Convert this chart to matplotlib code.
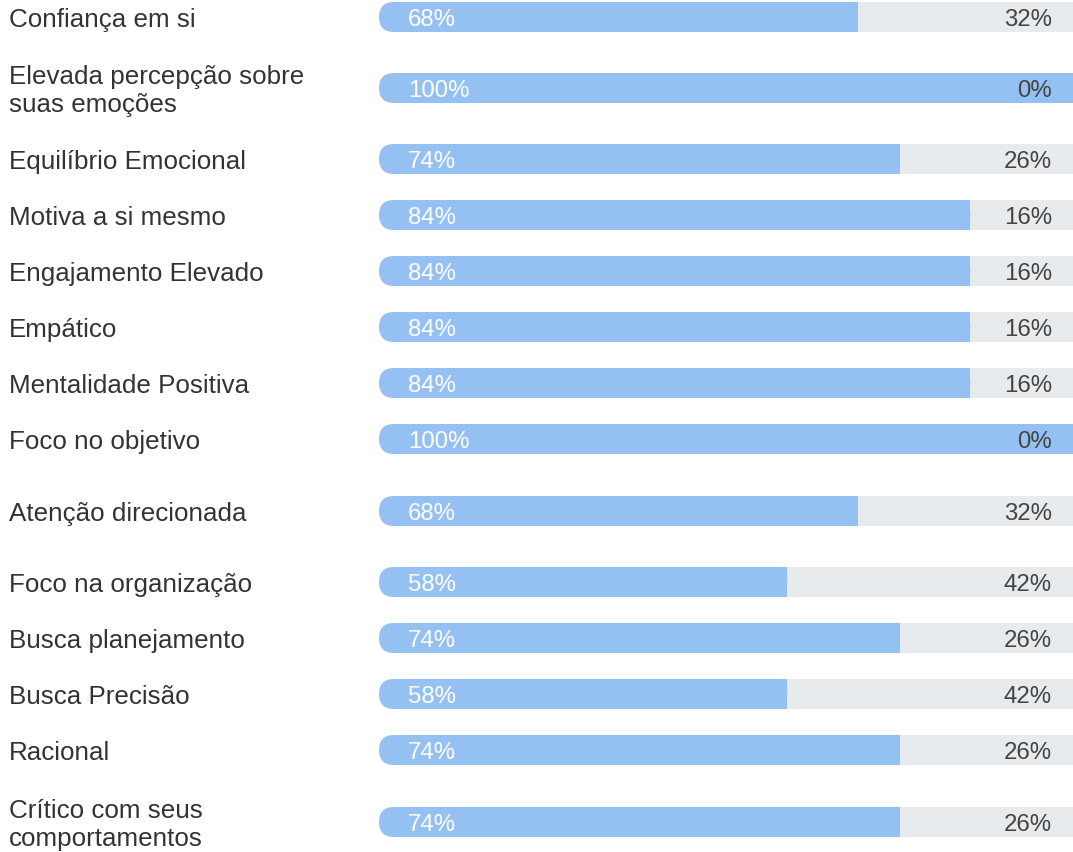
import matplotlib.pyplot as plt
from matplotlib.patches import FancyBboxPatch, Rectangle
from matplotlib.transforms import blended_transform_factory

plt.rcParams['font.family'] = ['Liberation Sans', 'DejaVu Sans']

# Dados
categorias = [
    "Confiança em si",
    "Elevada percepção sobre\nsuas emoções",
    "Equilíbrio Emocional",
    "Motiva a si mesmo",
    "Engajamento Elevado",
    "Empático",
    "Mentalidade Positiva",
    "Foco no objetivo",
    "Atenção direcionada",
    "Foco na organização",
    "Busca planejamento",
    "Busca Precisão",
    "Racional",
    "Crítico com seus\ncomportamentos",
]
sim = [68, 100, 74, 84, 84, 84, 84, 100, 68, 58, 74, 58, 74, 74]
nao = [32, 0, 26, 16, 16, 16, 16, 0, 32, 42, 26, 42, 26, 26]

# Layout (centro de cada linha, em pixels a partir do topo)
linhas_y = [18, 89, 160, 216, 272, 328, 384, 440, 512, 583, 639, 695, 751, 823]

W, H = 1073, 853
azul = '#94C1F2'
cinza = '#E8EBEE'
altura = 30
raio_px = 15

fig = plt.figure(figsize=(W / 100, H / 100), dpi=100)
ax = fig.add_axes([379 / W, 0, 704 / W, 1])
ax.set_xlim(0, 1)
ax.set_ylim(H, 0)
ax.axis('off')

px_x = 1 / 704  # uma unidade de pixel no eixo x
trans_lab = blended_transform_factory(fig.transFigure, ax.transData)

for cat, s, n, y in zip(categorias, sim, nao, linhas_y):
    v = s / 100
    topo = y - altura / 2
    # parte cinza (não)
    ax.barh(y, 1 - v, left=v, height=altura, color=cinza, linewidth=0)
    # parte azul com a ponta esquerda arredondada
    r = raio_px * px_x
    ax.add_patch(FancyBboxPatch((0, topo), v, altura,
                                boxstyle=f"round,pad=0,rounding_size={r}",
                                mutation_aspect=1 / px_x,
                                facecolor=azul, edgecolor='none'))
    ax.add_patch(Rectangle((r, topo), v - r, altura,
                           facecolor=azul, edgecolor='none'))

    ax.text(9 / W, y + 2, cat, transform=trans_lab, ha='left', va='center',
            fontsize=18.7, color='#333333', linespacing=1.25)
    ax.text(29 * px_x, y + 2, f"{s}%", ha='left', va='center',
            fontsize=17.3, color='white')
    ax.text(1052 / W, y + 2, f"{n}%", transform=trans_lab, ha='right',
            va='center', fontsize=17.3, color='#444444')

fig.savefig('out.png', dpi=100)
